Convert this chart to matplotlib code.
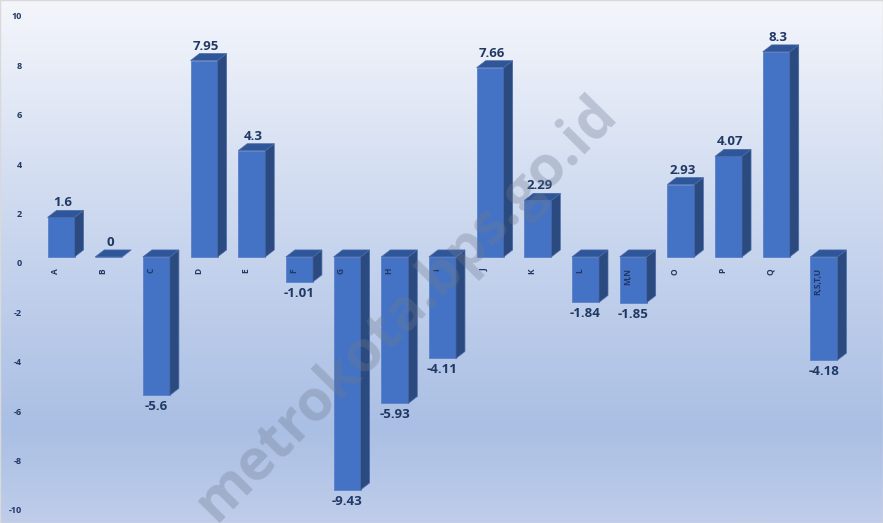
import numpy as np
import matplotlib
matplotlib.use("Agg")
import matplotlib.pyplot as plt
from matplotlib.colors import LinearSegmentedColormap
from matplotlib.patches import Polygon
from matplotlib.transforms import ScaledTranslation

plt.rcParams['font.family'] = ['Open Sans', 'DejaVu Sans']

categories = ["A", "B", "C", "D", "E", "F", "G", "H", "I", "J", "K", "L",
              "M,N", "O", "P", "Q", "R,S,T,U"]
values = [1.6, 0, -5.6, 7.95, 4.3, -1.01, -9.43, -5.93, -4.11, 7.66, 2.29,
          -1.84, -1.85, 2.93, 4.07, 8.3, -4.18]
value_labels = ["1.6", "0", "-5.6", "7.95", "4.3", "-1.01", "-9.43", "-5.93",
                "-4.11", "7.66", "2.29", "-1.84", "-1.85", "2.93", "4.07",
                "8.3", "-4.18"]
yticks = [10, 8, 6, 4, 2, 0, -2, -4, -6, -8, -10]

navy = "#1f3864"
front = "#4472c4"
side = "#2b4a7f"
top = "#30569a"

fig = plt.figure(figsize=(8.83, 5.23), dpi=100)
ax = fig.add_axes([0, 0, 1, 1])
ax.set_xlim(-1.28, 17.24)
ax.set_ylim(-10.77, 10.40)

# background gradient
cmap = LinearSegmentedColormap.from_list(
    "bg", [(0.0, "#bfcdea"), (0.18, "#aabfe4"), (0.55, "#c9d6ee"), (1.0, "#f4f6fb")])
grad = np.linspace(0, 1, 256).reshape(-1, 1)
ax.imshow(grad, cmap=cmap, aspect="auto", origin="lower",
          extent=(-1.28, 17.24, -10.77, 10.40), zorder=0)

w = 0.283   # half width of the front face
dx = 0.189  # depth offset, x
dy = 0.283  # depth offset, y

x = np.arange(len(categories))
ax.bar(x, values, width=2 * w, color=front, edgecolor="#5b80c9", lw=0.6, zorder=3)

for i, v in enumerate(values):
    lo, hi = min(v, 0), max(v, 0)
    x0, x1 = i - w, i + w
    if v != 0:
        ax.add_patch(Polygon([(x1, lo), (x1 + dx, lo + dy), (x1 + dx, hi + dy), (x1, hi)],
                             closed=True, fc=side, ec="#4a6aa8", lw=0.5, zorder=3))
    ax.add_patch(Polygon([(x0, hi), (x0 + dx, hi + dy), (x1 + dx, hi + dy), (x1, hi)],
                         closed=True, fc=top, ec="#4a6aa8", lw=0.5, zorder=3))
    if v >= 0:
        ax.text(i + 0.03, hi + dy + 0.04, value_labels[i], ha="center", va="bottom",
                fontsize=9.5, fontweight="bold", color=navy, zorder=5)
    else:
        ax.text(i, lo - 0.2, value_labels[i], ha="center", va="top",
                fontsize=9.5, fontweight="bold", color=navy, zorder=5)
    ax.text(i - 0.12, -0.45, categories[i], rotation=90, ha="center", va="top",
            fontsize=6, fontweight="bold", color=navy, zorder=5)

# y tick labels (drawn slightly below the bar scale, like the original)
shift = ScaledTranslation(0, -7 / 100, fig.dpi_scale_trans)
for t in yticks:
    ax.text(0.025, t, str(t), transform=ax.get_yaxis_transform() + shift,
            ha="right", va="center", fontsize=6.5, fontweight="bold", color=navy, zorder=5)

# watermark
ax.text(0.46, 0.41, "metrokota.bps.go.id", transform=ax.transAxes, rotation=45.3,
        ha="center", va="center", fontsize=41, fontweight="bold",
        color="#6e7a90", alpha=0.33, zorder=6)

ax.set_xticks([])
ax.set_yticks([])
for s in ax.spines.values():
    s.set_color("#d9d9d9")
    s.set_linewidth(1)

fig.savefig("out.png", dpi=100)
